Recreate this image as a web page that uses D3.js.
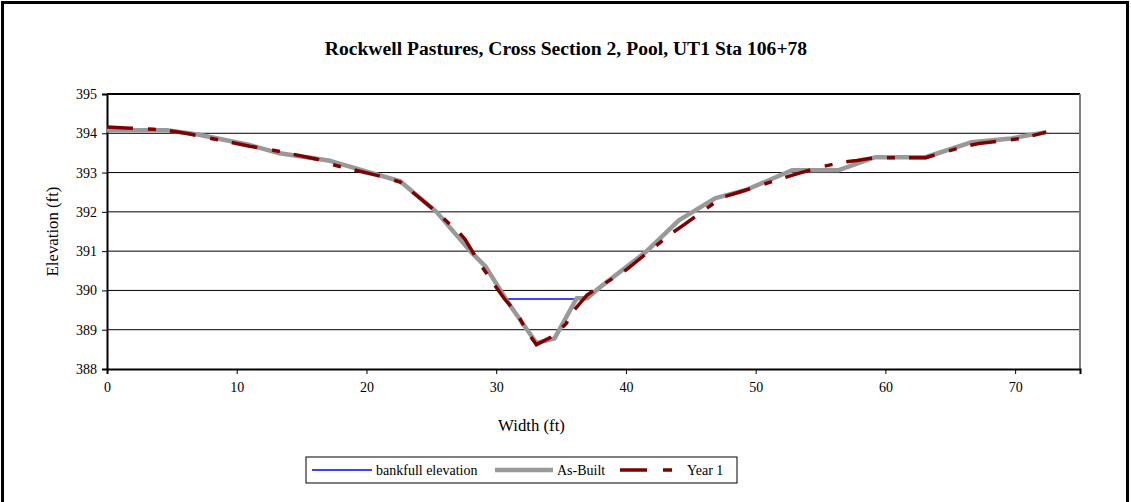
<!DOCTYPE html>
<html>
<head>
<meta charset="utf-8">
<script src="https://cdn.jsdelivr.net/npm/d3@7"></script>
<style>
  body { margin: 0; background: #fff; }
  svg { display: block; font-family: "Liberation Serif", "Times New Roman", serif; }
</style>
</head>
<body>
<div id="chart"></div>
<script>
// as-built survey (width ft, elevation ft)
const asBuiltX = [0, 4.6, 7, 11, 13.3, 17.2, 20.5, 22.6, 25.4, 28, 29.2, 30.8, 31.6, 33.1, 34.5, 36.2, 37, 38, 41.5, 44.1, 46.9, 49.2, 52.8, 56.4, 59.2, 63.1, 66.6, 69.7, 72.4];
const asBuiltY = [394.08, 394.08, 393.97, 393.7, 393.49, 393.3, 392.98, 392.78, 392.0, 391.0, 390.6, 389.75, 389.37, 388.66, 388.78, 389.8, 389.8, 390.08, 390.97, 391.79, 392.35, 392.55, 393.06, 393.06, 393.39, 393.39, 393.77, 393.87, 394.03];

// year 1 survey
const year1X = [0, 1.8, 3.6, 4.6, 6.4, 11, 12.8, 16.2, 17.4, 20.8, 22.6, 25.4, 27.2, 27.6, 28.7, 30, 30.6, 31.6, 32.3, 33.1, 34.5, 35.4, 35.8, 37, 37.8, 40, 43.5, 44.6, 47.4, 48.7, 52, 53.3, 55, 56.6, 57.8, 59.2, 63.1, 65.9, 67.2, 70.5, 72.4];
const year1Y = [394.16, 394.13, 394.1, 394.08, 393.98, 393.67, 393.57, 393.34, 393.2, 392.93, 392.76, 392.0, 391.45, 391.3, 390.7, 390.08, 389.8, 389.42, 388.99, 388.62, 388.86, 389.16, 389.42, 389.88, 390.06, 390.52, 391.45, 391.7, 392.37, 392.5, 392.85, 392.98, 393.14, 393.26, 393.31, 393.38, 393.38, 393.65, 393.74, 393.87, 394.03];

// bankfull elevation line
const bankfullX = [30.7, 36.1];
const bankfullY = [389.78, 389.78];

const xTicks = [0, 10, 20, 30, 40, 50, 60, 70];
const yTicks = [388, 389, 390, 391, 392, 393, 394, 395];

const zip = (xs, ys) => xs.map((x, i) => ({ x: x, y: ys[i] }));

const size = { width: 1131, height: 502 };
const margin = { left: 107, right: 51, top: 94, bottom: 133 };

const svg = d3.select("#chart")
  .append("svg")
  .attr("width", size.width)
  .attr("height", size.height);

// outer chart border
svg.append("rect")
  .attr("x", 2.5).attr("y", 2.5)
  .attr("width", 1125).attr("height", 520)
  .attr("fill", "#fff")
  .attr("stroke", "#000")
  .attr("stroke-width", 3);

const x = d3.scaleLinear()
  .domain([0, 75])
  .range([margin.left, size.width - margin.right]);

const y = d3.scaleLinear()
  .domain([388, 395])
  .range([size.height - margin.bottom, margin.top]);

// gridlines
svg.append("g")
  .selectAll("line")
  .data(yTicks.slice(1, -1))
  .join("line")
  .attr("x1", x(0)).attr("x2", x(75))
  .attr("y1", (d) => y(d)).attr("y2", (d) => y(d))
  .attr("stroke", "#000")
  .attr("stroke-width", 1);

// plot border: top black, right gray
svg.append("line")
  .attr("x1", x(0)).attr("x2", x(75))
  .attr("y1", y(395)).attr("y2", y(395))
  .attr("stroke", "#000").attr("stroke-width", 2);
svg.append("line")
  .attr("x1", x(75)).attr("x2", x(75))
  .attr("y1", y(395)).attr("y2", y(388))
  .attr("stroke", "#808080").attr("stroke-width", 2);

// axes
const xAxis = svg.append("g")
  .attr("transform", `translate(0, ${y(388)})`)
  .call(d3.axisBottom(x).tickValues(xTicks).tickSize(5).tickPadding(8).tickFormat(d3.format("d")));
const yAxis = svg.append("g")
  .attr("transform", `translate(${x(0)}, 0)`)
  .call(d3.axisLeft(y).tickValues(yTicks).tickSize(5).tickPadding(5).tickFormat(d3.format("d")));

[xAxis, yAxis].forEach((a) => {
  a.select(".domain").attr("stroke", "#000").attr("stroke-width", 2);
  a.selectAll(".tick line").attr("stroke", "#000");
  a.selectAll("text")
    .attr("font-family", "Liberation Serif, Times New Roman, serif")
    .attr("font-size", 14)
    .attr("fill", "#000");
});

const line = d3.line()
  .x((d) => x(d.x))
  .y((d) => y(d.y));

svg.append("path")
  .datum(zip(bankfullX, bankfullY))
  .attr("fill", "none")
  .attr("stroke", "#0000ff")
  .attr("stroke-width", 1.5)
  .attr("d", line);

svg.append("path")
  .datum(zip(asBuiltX, asBuiltY))
  .attr("fill", "none")
  .attr("stroke", "#999999")
  .attr("stroke-width", 4.5)
  .attr("stroke-linejoin", "round")
  .attr("d", line);

svg.append("path")
  .datum(zip(year1X, year1Y))
  .attr("fill", "none")
  .attr("stroke", "#800000")
  .attr("stroke-width", 3.5)
  .attr("stroke-dasharray", "26,15,8,14")
  .attr("d", line);

// title and axis titles
svg.append("text")
  .attr("x", 566).attr("y", 55)
  .attr("text-anchor", "middle")
  .attr("font-size", 19.6)
  .attr("font-weight", "bold")
  .text("Rockwell Pastures, Cross Section 2, Pool, UT1 Sta 106+78");

svg.append("text")
  .attr("x", (x(0) + x(75)) / 2 - 62).attr("y", 431)
  .attr("text-anchor", "middle")
  .attr("font-size", 16.8)
  .text("Width (ft)");

svg.append("text")
  .attr("transform", `translate(58, ${(y(388) + y(395)) / 2}) rotate(-90)`)
  .attr("text-anchor", "middle")
  .attr("font-size", 16.8)
  .text("Elevation (ft)");

// legend
const legend = svg.append("g").attr("transform", "translate(306, 457)");
legend.append("rect")
  .attr("width", 431).attr("height", 26)
  .attr("fill", "#fff")
  .attr("stroke", "#000")
  .attr("stroke-width", 1);

const legendItems = [
  { name: "bankfull elevation", color: "#0000ff", width: 1.5, dash: null, x0: 6, x1: 66, tx: 70 },
  { name: "As-Built", color: "#999999", width: 4.5, dash: null, x0: 189, x1: 247, tx: 251 },
  { name: "Year 1", color: "#800000", width: 3.5, dash: "27,16,9,30", x0: 314, x1: 370, tx: 381 },
];

legendItems.forEach((d) => {
  legend.append("line")
    .attr("x1", d.x0).attr("x2", d.x1)
    .attr("y1", 13).attr("y2", 13)
    .attr("stroke", d.color)
    .attr("stroke-width", d.width)
    .attr("stroke-dasharray", d.dash);
  legend.append("text")
    .attr("x", d.tx).attr("y", 18)
    .attr("font-size", 14)
    .text(d.name);
});
</script>
</body>
</html>
